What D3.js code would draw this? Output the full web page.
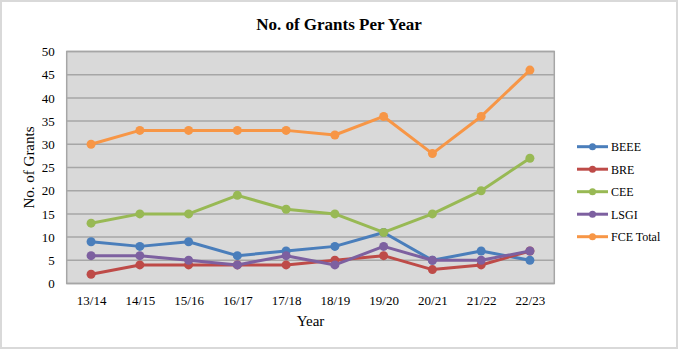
<!DOCTYPE html>
<html><head><meta charset="utf-8">
<script src="https://cdn.jsdelivr.net/npm/d3@7"></script>
<style>body{margin:0;background:#fff}svg{display:block}</style>
</head><body>
<script>
const categories = ["13/14","14/15","15/16","16/17","17/18","18/19","19/20","20/21","21/22","22/23"];
const BEEE = [9,8,9,6,7,8,11,5,7,5];
const BRE = [2,4,4,4,4,5,6,3,4,7];
const CEE = [13,15,15,19,16,15,11,15,20,27];
const LSGI = [6,6,5,4,6,4,8,5,5,7];
const FCE = [30,33,33,33,33,32,36,28,36,46];
const yTicks = [0,5,10,15,20,25,30,35,40,45,50];
const seriesNames = ["BEEE","BRE","CEE","LSGI","FCE Total"];
const seriesData = [BEEE,BRE,CEE,LSGI,FCE];
const colors = ["#4a7ebb","#be4b48","#98b954","#7d60a0","#f79646"];

const W=678,H=349;
const svg=d3.select("body").append("svg").attr("width",W).attr("height",H);
svg.append("rect").attr("x",1).attr("y",1).attr("width",W-2).attr("height",H-2).attr("fill","#fff").attr("stroke","#d9d9d9").attr("stroke-width",2);

const L=66.7,R=554.3,T=51.5,B=283.5;
const x=d3.scalePoint().domain(categories).range([L,R]).padding(0.5);
const y=d3.scaleLinear().domain([0,50]).range([B,T]);

svg.append("rect").attr("x",L).attr("y",T).attr("width",R-L).attr("height",B-T).attr("fill","#d9d9d9");
svg.append("g").selectAll("line").data(yTicks).join("line")
  .attr("x1",L).attr("x2",R).attr("y1",d=>y(d)).attr("y2",d=>y(d))
  .attr("stroke","#a6a6a6").attr("stroke-width",1.5);
svg.append("rect").attr("x",L).attr("y",T).attr("width",R-L).attr("height",B-T).attr("fill","none").attr("stroke","#a6a6a6").attr("stroke-width",1.5);

const font="'Liberation Serif','Times New Roman',serif";
const yAxis=svg.append("g").attr("transform",`translate(${L},0)`).call(d3.axisLeft(y).tickValues(yTicks).tickSize(0).tickPadding(12));
yAxis.attr("font-family",font).attr("font-size",13);
yAxis.select(".domain").remove();
yAxis.selectAll("text").attr("fill","#000");
const xAxis=svg.append("g").attr("transform",`translate(0,${B})`).call(d3.axisBottom(x).tickSize(0).tickPadding(12));
xAxis.attr("font-family",font).attr("font-size",13);
xAxis.select(".domain").remove();
xAxis.selectAll("text").attr("fill","#000");

svg.append("text").attr("x",339).attr("y",30).attr("text-anchor","middle").attr("font-family",font).attr("font-weight","bold").attr("font-size",17).text("No. of Grants Per Year");
svg.append("text").attr("x",(L+R)/2).attr("y",326).attr("text-anchor","middle").attr("font-family",font).attr("font-size",15).text("Year");
svg.append("text").attr("transform",`translate(34,${(T+B)/2}) rotate(-90)`).attr("text-anchor","middle").attr("font-family",font).attr("font-size",15).text("No. of Grants");

const line=d3.line().x((d,i)=>x(categories[i])).y(d=>y(d));
seriesData.forEach((s,k)=>{
  const g=svg.append("g");
  g.append("path").attr("d",line(s)).attr("fill","none").attr("stroke",colors[k]).attr("stroke-width",3).attr("stroke-linejoin","round");
  g.selectAll("circle").data(s).join("circle").attr("cx",(d,i)=>x(categories[i])).attr("cy",d=>y(d)).attr("r",4.5).attr("fill",colors[k]);
});

const lg=svg.append("g");
seriesNames.forEach((n,k)=>{
  const yy=146.7+k*22.5;
  lg.append("line").attr("x1",577).attr("x2",608).attr("y1",yy).attr("y2",yy).attr("stroke",colors[k]).attr("stroke-width",3);
  lg.append("circle").attr("cx",592.5).attr("cy",yy).attr("r",3.5).attr("fill",colors[k]);
  lg.append("text").attr("x",611).attr("y",yy+4.5).attr("font-family",font).attr("font-size",12).text(n);
});
</script>
</body></html>
